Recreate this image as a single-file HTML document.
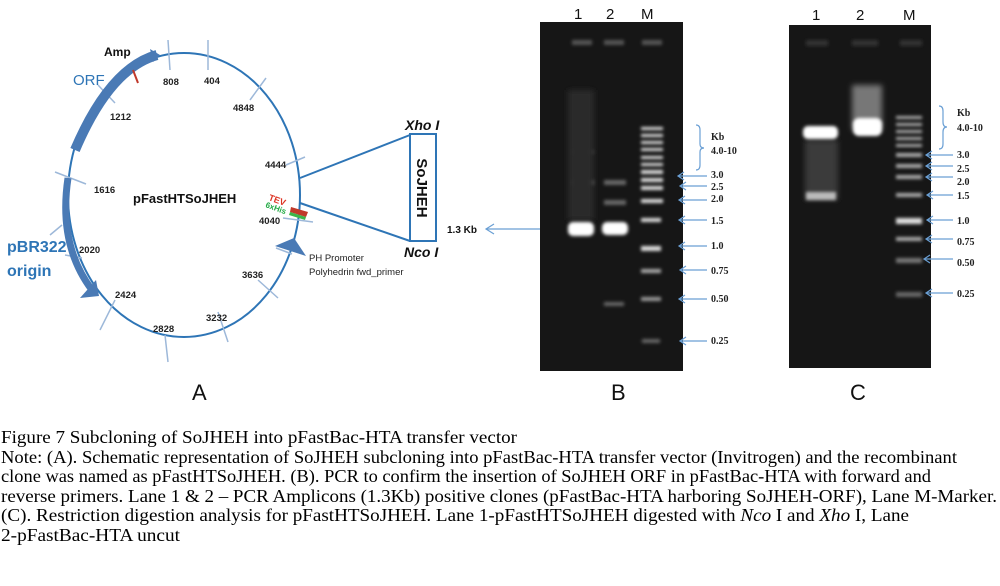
<!DOCTYPE html>
<html><head><style>
html,body{margin:0;padding:0;background:#fff;}
svg{display:block;}
.n{font:bold 9.5px "Liberation Sans",sans-serif;fill:#222;}
.ln{font:22px "Liberation Sans",sans-serif;fill:#111;}
.cap{font:18px "Liberation Serif",serif;fill:#000;}
</style></head><body>
<svg width="1000" height="586" viewBox="0 0 1000 586" xmlns="http://www.w3.org/2000/svg">
<defs>
<filter id="b1" x="-50%" y="-200%" width="200%" height="500%"><feGaussianBlur stdDeviation="1.6"/></filter>
<filter id="b2" x="-50%" y="-200%" width="200%" height="500%"><feGaussianBlur stdDeviation="3"/></filter>
</defs>
<ellipse cx="184" cy="195" rx="116" ry="142" fill="none" stroke="#2e75b6" stroke-width="2"/>
<g stroke="#9db8d9" stroke-width="1.5">
<line x1="168" y1="40" x2="170" y2="70"/><line x1="208" y1="40" x2="208" y2="70"/>
<line x1="266" y1="78" x2="250" y2="100"/><line x1="286" y1="165" x2="305" y2="157"/>
<line x1="55" y1="172" x2="86" y2="184"/><line x1="62" y1="225" x2="50" y2="235"/>
<line x1="65" y1="255" x2="82" y2="258"/><line x1="115" y1="300" x2="100" y2="330"/>
<line x1="165" y1="335" x2="168" y2="362"/><line x1="218" y1="312" x2="228" y2="342"/>
<line x1="258" y1="280" x2="278" y2="298"/><line x1="276" y1="248" x2="292" y2="254"/>
<line x1="283" y1="218" x2="313" y2="222"/><line x1="98" y1="85" x2="115" y2="103"/>
</g>
<path d="M157,55 Q110,68 75,150" fill="none" stroke="#4a7ab5" stroke-width="10"/>
<path d="M150,49 L160,55 L153,62 Z" fill="#4a7ab5"/>
<line x1="133" y1="70" x2="138" y2="83" stroke="#c0392b" stroke-width="2"/>
<path d="M68,178 Q58,245 92,290" fill="none" stroke="#4a7ab5" stroke-width="7"/>
<path d="M80,298 L99,296 L96,280 Z" fill="#4a7ab5"/>
<text x="104" y="56" font-family="Liberation Sans" font-weight="bold" font-size="12" fill="#111">Amp</text>
<text x="73" y="85" font-family="Liberation Sans" font-size="15" fill="#2e75b6">ORF</text>
<text x="7" y="252" font-family="Liberation Sans" font-weight="bold" font-size="16" fill="#2e75b6">pBR322</text>
<text x="7" y="276" font-family="Liberation Sans" font-weight="bold" font-size="16" fill="#2e75b6">origin</text>
<text class="n" x="163" y="85">808</text><text class="n" x="204" y="84">404</text>
<text class="n" x="233" y="111">4848</text><text class="n" x="110" y="120">1212</text>
<text class="n" x="265" y="168">4444</text><text class="n" x="94" y="193">1616</text>
<text class="n" x="259" y="224">4040</text><text class="n" x="79" y="253">2020</text>
<text class="n" x="115" y="298">2424</text><text class="n" x="153" y="332">2828</text>
<text class="n" x="206" y="321">3232</text><text class="n" x="242" y="278">3636</text>
<text x="133" y="203" font-family="Liberation Sans" font-weight="bold" font-size="13" fill="#111">pFastHTSoJHEH</text>
<text x="268" y="200" font-family="Liberation Sans" font-weight="bold" font-size="9" fill="#d32" transform="rotate(20 268 200)">TEV</text>
<text x="265" y="207" font-family="Liberation Sans" font-weight="bold" font-size="8" fill="#2a4" transform="rotate(20 265 207)">6xHis</text>
<path d="M291,207 L308,212 L306,217 L290,212 Z" fill="#c0392b"/>
<path d="M290,212 L306,217 L305,220 L289,215 Z" fill="#3cb54a"/>
<path d="M275,246 L306,256 L294,238 Z" fill="#4a7ab5"/>
<text x="309" y="261" font-family="Liberation Sans" font-size="9.5" fill="#222">PH Promoter</text>
<text x="309" y="275" font-family="Liberation Sans" font-size="9.5" fill="#222">Polyhedrin fwd_primer</text>
<line x1="300" y1="178" x2="410" y2="135" stroke="#2e75b6" stroke-width="2"/>
<line x1="300" y1="203" x2="410" y2="241" stroke="#2e75b6" stroke-width="2"/>
<rect x="410" y="134" width="26" height="107" fill="#fff" stroke="#2e75b6" stroke-width="2"/>
<text x="0" y="0" font-family="Liberation Sans" font-weight="bold" font-size="15" fill="#111" text-anchor="middle" transform="translate(417 188) rotate(90)">SoJHEH</text>
<text x="405" y="130" font-family="Liberation Sans" font-weight="bold" font-style="italic" font-size="14" fill="#111">Xho I</text>
<text x="404" y="257" font-family="Liberation Sans" font-weight="bold" font-style="italic" font-size="14" fill="#111">Nco I</text>
<text x="447" y="233" font-family="Liberation Sans" font-weight="bold" font-size="10" fill="#111">1.3 Kb</text>
<line x1="486" y1="229" x2="541" y2="229" stroke="#6a9fd4" stroke-width="1.2"/>
<path d="M494,224 L486,229 L494,234" fill="none" stroke="#6a9fd4" stroke-width="1.2"/>
<text class="ln" x="192" y="400">A</text>
<text class="ln" x="611" y="400">B</text>
<text class="ln" x="850" y="400">C</text>
<rect x="540" y="22" width="143" height="349" fill="#161616"/>
<g font-family="Liberation Sans" font-size="15" fill="#111">
<text x="574" y="19">1</text><text x="606" y="19">2</text><text x="641" y="19">M</text>
<text x="812" y="20">1</text><text x="856" y="20">2</text><text x="903" y="20">M</text>
</g>
<g fill="#555" filter="url(#b1)">
<rect x="572" y="40" width="20" height="5"/><rect x="604" y="40" width="20" height="5"/><rect x="642" y="40" width="20" height="5"/>
<rect x="572" y="150" width="22" height="4" fill="#444"/><rect x="572" y="180" width="22" height="5" fill="#666"/>
<rect x="604" y="180" width="22" height="5" fill="#666"/><rect x="604" y="200" width="22" height="5" fill="#666"/>
<rect x="604" y="302" width="20" height="4" fill="#666"/>
</g>
<rect x="568" y="90" width="26" height="130" fill="#2a2a2a" filter="url(#b2)"/>
<g fill="#fff" filter="url(#b1)">
<rect x="568" y="222" width="26" height="14" rx="5"/><rect x="602" y="222" width="26" height="13" rx="5"/>
</g>
<g fill="#ddd" filter="url(#b1)">
<rect x="641" y="127" width="22" height="3"/><rect x="641" y="134" width="22" height="3"/><rect x="641" y="141" width="22" height="3"/>
<rect x="641" y="148" width="22" height="3"/><rect x="641" y="156" width="22" height="3"/><rect x="641" y="163" width="22" height="3"/>
<rect x="641" y="170" width="22" height="4"/><rect x="641" y="178" width="22" height="4"/><rect x="641" y="186" width="22" height="4"/>
<rect x="641" y="199" width="22" height="4"/><rect x="641" y="218" width="20" height="4"/><rect x="641" y="246" width="20" height="5"/>
<rect x="641" y="269" width="20" height="4" fill="#aaa"/><rect x="641" y="297" width="20" height="4" fill="#999"/><rect x="642" y="339" width="18" height="4" fill="#666"/>
</g>
<path d="M696,125 Q700,125 700,130 L700,144 Q700,148 704,148 Q700,148 700,152 L700,165 Q700,170 696,170" fill="none" stroke="#6a9fd4" stroke-width="1.2"/>
<g stroke="#6a9fd4" stroke-width="1.2" fill="none">
<path d="M678,176 H707 M684,172 L678,176 L684,180"/><path d="M680,186 H707 M686,182 L680,186 L686,190"/>
<path d="M679,200 H707 M685,196 L679,200 L685,204"/><path d="M679,220 H707 M685,216 L679,220 L685,224"/>
<path d="M679,246 H707 M685,242 L679,246 L685,250"/><path d="M680,270 H707 M686,266 L680,270 L686,274"/>
<path d="M679,299 H707 M685,295 L679,299 L685,303"/><path d="M680,341 H707 M686,337 L680,341 L686,345"/>
</g>
<g font-family="Liberation Serif" font-weight="bold" font-size="10" fill="#222">
<text x="711" y="140">Kb</text><text x="711" y="154">4.0-10</text>
<text x="711" y="178">3.0</text><text x="711" y="190">2.5</text><text x="711" y="202">2.0</text><text x="711" y="224">1.5</text>
<text x="711" y="249">1.0</text><text x="711" y="274">0.75</text><text x="711" y="302">0.50</text><text x="711" y="344">0.25</text>
</g>
<rect x="789" y="25" width="142" height="343" fill="#161616"/>
<g fill="#333" filter="url(#b1)">
<rect x="806" y="40" width="22" height="6"/><rect x="852" y="40" width="26" height="6"/><rect x="900" y="40" width="22" height="6"/>
</g>
<rect x="805" y="140" width="33" height="60" fill="#3a3a3a" filter="url(#b2)"/>
<rect x="852" y="85" width="30" height="45" fill="#777" filter="url(#b2)"/>
<g fill="#fff" filter="url(#b1)">
<rect x="803" y="126" width="35" height="13" rx="5"/><rect x="853" y="118" width="29" height="18" rx="6"/>
</g>
<rect x="806" y="192" width="30" height="8" fill="#bbb" filter="url(#b1)"/>
<g fill="#aaa" filter="url(#b1)">
<rect x="896" y="116" width="26" height="3"/><rect x="896" y="123" width="26" height="3"/><rect x="896" y="130" width="26" height="3"/>
<rect x="896" y="137" width="26" height="3"/><rect x="896" y="144" width="26" height="3"/><rect x="896" y="153" width="26" height="4"/>
<rect x="896" y="164" width="26" height="4"/><rect x="896" y="175" width="26" height="4"/><rect x="896" y="193" width="26" height="4"/>
<rect x="896" y="218" width="26" height="6" fill="#ddd"/><rect x="896" y="237" width="26" height="4"/>
<rect x="896" y="258" width="26" height="5" fill="#777"/><rect x="896" y="292" width="26" height="5" fill="#666"/>
</g>
<path d="M939,106 Q943,106 943,111 L943,122 Q943,127 947,127 Q943,127 943,132 L943,144 Q943,149 939,149" fill="none" stroke="#6a9fd4" stroke-width="1.2"/>
<g stroke="#6a9fd4" stroke-width="1.2" fill="none">
<path d="M926,155 H953 M932,151 L926,155 L932,159"/><path d="M926,166 H953 M932,162 L926,166 L932,170"/>
<path d="M926,177 H953 M932,173 L926,177 L932,181"/><path d="M927,195 H953 M933,191 L927,195 L933,199"/>
<path d="M927,220 H953 M933,216 L927,220 L933,224"/><path d="M926,239 H953 M932,235 L926,239 L932,243"/>
<path d="M924,259 H953 M930,255 L924,259 L930,263"/><path d="M926,293 H953 M932,289 L926,293 L932,297"/>
</g>
<g font-family="Liberation Serif" font-weight="bold" font-size="10" fill="#222">
<text x="957" y="116">Kb</text><text x="957" y="131">4.0-10</text>
<text x="957" y="158">3.0</text><text x="957" y="172">2.5</text><text x="957" y="185">2.0</text><text x="957" y="199">1.5</text>
<text x="957" y="224">1.0</text><text x="957" y="245">0.75</text><text x="957" y="266">0.50</text><text x="957" y="297">0.25</text>
</g>
<text class="cap" x="1" y="443" textLength="516" lengthAdjust="spacingAndGlyphs">Figure 7 Subcloning of SoJHEH into pFastBac-HTA transfer vector</text>
<text class="cap" x="1" y="463" textLength="956" lengthAdjust="spacingAndGlyphs">Note: (A). Schematic representation of SoJHEH subcloning into pFastBac-HTA transfer vector (Invitrogen) and the recombinant</text>
<text class="cap" x="1" y="482" textLength="930" lengthAdjust="spacingAndGlyphs">clone was named as pFastHTSoJHEH. (B). PCR to confirm the insertion of SoJHEH ORF in pFastBac-HTA with forward and</text>
<text class="cap" x="1" y="502" textLength="996" lengthAdjust="spacingAndGlyphs">reverse primers. Lane 1 &amp; 2 – PCR Amplicons (1.3Kb) positive clones (pFastBac-HTA harboring SoJHEH-ORF), Lane M-Marker.</text>
<text class="cap" x="1" y="521" textLength="908" lengthAdjust="spacingAndGlyphs">(C). Restriction digestion analysis for pFastHTSoJHEH. Lane 1-pFastHTSoJHEH digested with <tspan font-style="italic">Nco</tspan> I and <tspan font-style="italic">Xho</tspan> I, Lane</text>
<text class="cap" x="1" y="541" textLength="179" lengthAdjust="spacingAndGlyphs">2-pFastBac-HTA uncut</text>
</svg>
</body></html>
